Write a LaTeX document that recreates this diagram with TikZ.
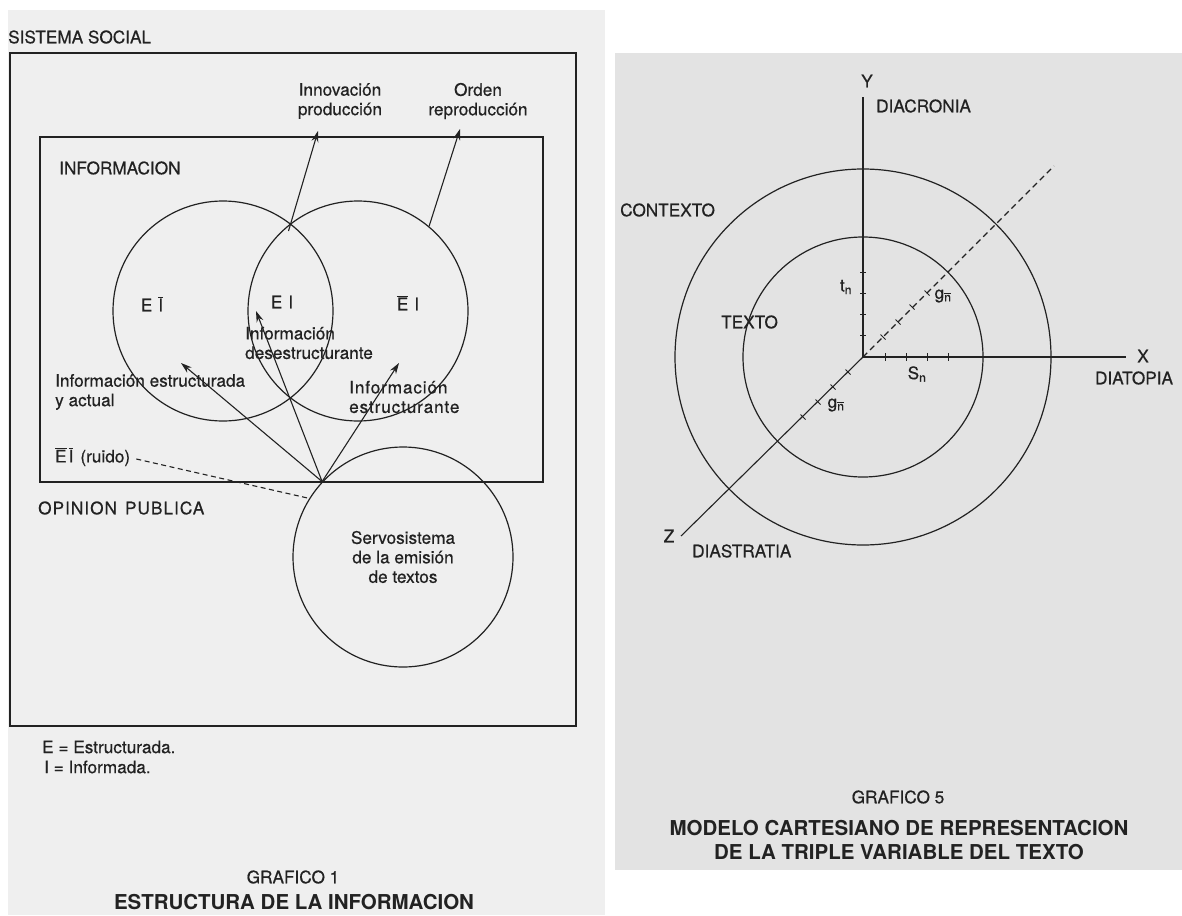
\documentclass[tikz,border=0pt]{standalone}
\usepackage{fontspec}
\setmainfont{TeX Gyre Heros}
\newfontfamily\printfont{TeX Gyre Heros}[FakeBold=0.5]
\usetikzlibrary{arrows.meta}
\definecolor{ink}{HTML}{222222}
\definecolor{pageL}{HTML}{EFEFEF}
\definecolor{pageR}{HTML}{E3E3E3}
% a letter with a bar over it, set in the running text font
\newcommand{\barred}[1]{$\overline{\hbox{#1}}$}

\begin{document}
\begin{tikzpicture}[x=1pt,y=-1pt,
  txt/.style={inner sep=0pt, text=ink, font=\printfont\fontsize{17.2}{19.5}\selectfont},
  ttl/.style={inner sep=0pt, text=ink, font=\fontsize{20.5}{24}\selectfont\bfseries},
  boxline/.style={draw=ink, line width=1.4pt},
  ring/.style={circle, draw=ink, line width=1.2pt, minimum size=220pt, inner sep=0pt},
  link/.style={draw=ink, line width=1.1pt},
  arr/.style={link, -{Stealth[length=11pt,width=7pt]}},
  axisline/.style={draw=ink, line width=1.1pt},
  tickmark/.style={draw=ink, line width=1pt}
]
\useasboundingbox (0,0) rectangle (1182,915);
\fill[white] (0,0) rectangle (1182,915);

% ---------------- left page: GRAFICO 1 ----------------
\fill[pageL] (8,10) rectangle (605,915);

\draw[boxline] (10,53) rectangle (576,726);
\node[txt, anchor=west] (social) at (8,37) {SISTEMA SOCIAL};

\draw[boxline] (40,137) rectangle (543,482);
\node[txt, anchor=west] (info) at (59,168) {INFORMACION};

\node[ring] (cL) at (223,311) {};
\node[ring] (cR) at (358,311) {};
\node[ring, align=center, txt, inner sep=0pt] (serv) at (403,557)
  {Servosistema\\de la emisión\\de textos};

\node[txt, align=center] (innov) at (340,101) {Innovación\\producción};
\node[txt, align=center] (orden) at (478,101) {Orden\\reproducción};

\coordinate (cross) at (288.5,231);
\coordinate (innovtip) at (318,131);
\coordinate (ordentip) at (460,129);
\draw[arr] (cross) -- (innovtip);
\draw[arr] (cR.50) -- (ordentip);

\node[txt] (reg1) at (152,304) {E\hspace{6pt}\barred{I}};
\node[txt] (reg2) at (282,302) {E\hspace{6pt}I};
\node[txt] (reg3) at (408,303) {\barred{E}\hspace{6pt}I};

\node[txt, anchor=west, align=left] (desest) at (245,343) {Información\\desestructurante};
\node[txt, anchor=west, align=left] (estact) at (55,392) {Información estructurada\\y actual};
\node[txt, anchor=west, align=left, font=\printfont\fontsize{17.2}{19.5}\selectfont\addfontfeature{LetterSpace=5}]
  (estruc) at (349,397) {Información\\estructurante};

\node[txt, anchor=west] (ruido) at (55,457) {\barred{E}\hspace{2pt}\barred{I}\hspace{7pt}(ruido)};
\draw[link, dash pattern=on 5pt off 3.5pt] (ruido.east) ++(6,2) coordinate (ruidoend) -- (serv.148);

\coordinate (conv) at (serv.137);
\coordinate (tipA) at (181,363);
\coordinate (tipB) at (256,311);
\coordinate (tipC) at (399,363);
\draw[arr] (conv) -- (tipA);
\draw[arr] (conv) -- (tipB);
\draw[arr] (conv) -- (tipC);

\node[txt, anchor=west, font=\printfont\fontsize{17.2}{19.5}\selectfont\addfontfeature{LetterSpace=6}]
  (opinion) at (38,508) {OPINION\hspace{8pt}PUBLICA};

\node[txt, anchor=west] (legE) at (42,747) {E = Estructurada.};
\node[txt, anchor=west] (legI) at (44,767) {I = Informada.};

\node[txt] (graf1) at (293,877) {GRAFICO 1};
\node[ttl] (tit1) at (294,902) {ESTRUCTURA DE LA INFORMACION};

% ---------------- right page: GRAFICO 5 ----------------
\fill[pageR] (615,53) rectangle (1182,870);

\coordinate (O) at (863,357);
\draw[draw=ink, line width=1.2pt] (O) circle[radius=188pt];
\draw[draw=ink, line width=1.2pt] (O) circle[radius=120pt];

\coordinate (ytop) at (863,97);
\coordinate (xend) at (1126,357);
\coordinate (gend) at (1054,166);
\coordinate (zend) at (681,536);
\draw[axisline] (O) -- (ytop);
\draw[axisline] (O) -- (xend);
\draw[axisline, dash pattern=on 6pt off 4pt] (O) -- (gend);
\draw[axisline] (O) -- (zend);

% scale marks on the axes
\foreach \y in {335,314,293,272} \draw[tickmark] (860,\y) -- (866,\y);
\foreach \x in {885,906,927,948} \draw[tickmark] (\x,353) -- (\x,361);
\foreach \x/\y in {883/337,898/322,912/307,927/293}
  \draw[tickmark] (\x-2.5,\y-2.5) -- (\x+2.5,\y+2.5);
\foreach \x/\y in {848/372,833/387,818/402,803/417}
  \draw[tickmark] (\x-2.5,\y-2.5) -- (\x+2.5,\y+2.5);

\node[txt] (ylab) at (867,81) {Y};
\node[txt, anchor=west] (diacr) at (876,106) {DIACRONIA};
\node[txt] (xlab) at (1143,356) {X};
\node[txt] (diatop) at (1134,378) {DIATOPIA};
\node[txt] (zlab) at (669,536) {Z};
\node[txt, anchor=west] (diastr) at (692,551) {DIASTRATIA};
\node[txt, anchor=west] (contexto) at (620,210) {CONTEXTO};
\node[txt, anchor=west] (texto) at (721,322) {TEXTO};

\node[txt] (tn) at (846,287) {t\textsubscript{n}};
\node[txt] (sn) at (917,374) {S\textsubscript{n}};
\node[txt] (gn1) at (943,296) {g\textsubscript{\barred{n}}};
\node[txt] (gn2) at (836,405) {g\textsubscript{\barred{n}}};

\node[txt] (graf5) at (898,797) {GRAFICO 5};
\node[ttl, align=center] (tit5) at (899,840)
  {MODELO CARTESIANO DE REPRESENTACION\\DE LA TRIPLE VARIABLE DEL TEXTO};
\end{tikzpicture}
\end{document}
